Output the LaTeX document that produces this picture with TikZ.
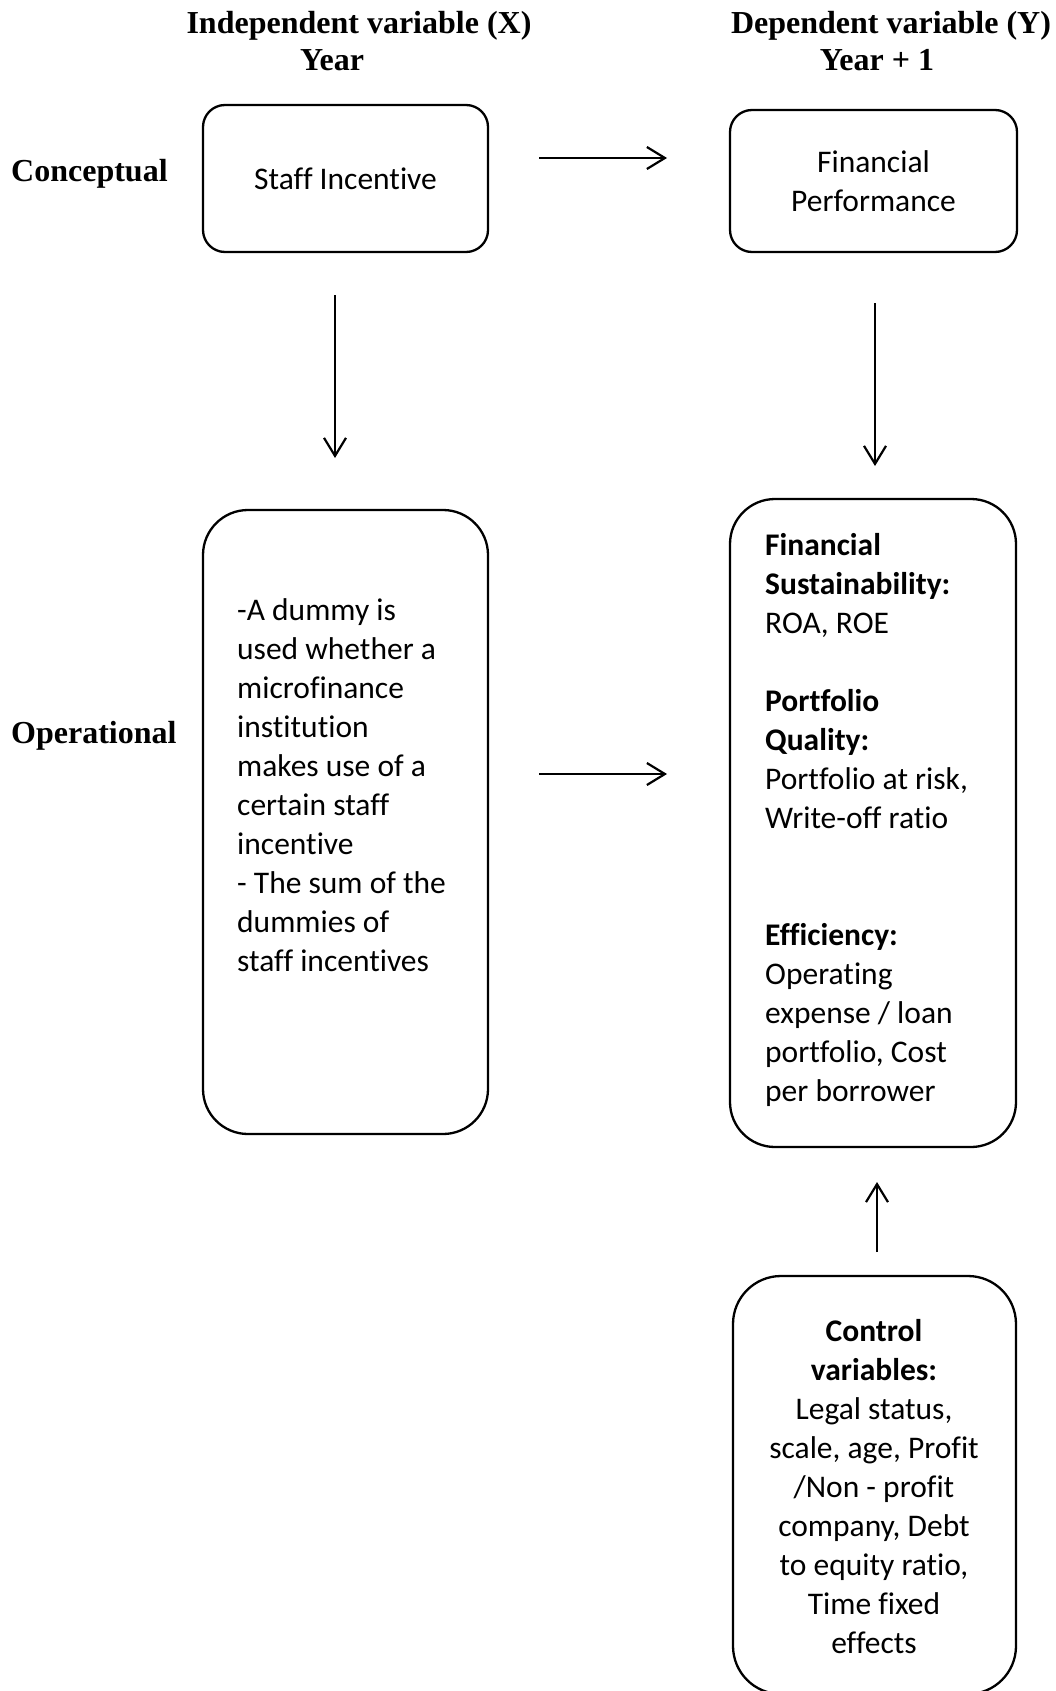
\documentclass[tikz,border=0pt]{standalone}
\usepackage{fontspec}
\setmainfont{Carlito}[Ligatures={NoCommon,NoDiscretionary},RawFeature={-liga;-clig;-dlig}]
\newfontfamily\headfont{Liberation Serif}
\usetikzlibrary{arrows.meta}
\begin{document}
\begin{tikzpicture}[x=1pt,y=-1pt,
  box/.style={draw, line width=2.3pt, rounded corners=#1, inner sep=0pt},
  box/.default=22pt,
  bodytext/.style={inner sep=0pt, font=\fontsize{31.5}{39}\selectfont},
  head/.style={inner sep=0pt, font=\headfont\bfseries\fontsize{32}{36}\selectfont},
  arr/.style={line width=2.2pt, -{Straight Barb[length=18pt,width=22pt,line width=2.2pt]}}]
\useasboundingbox (0,0) rectangle (1055,1691);

% headings
\node[head, anchor=base] (hx) at (359,34) {Independent variable (X)};
\node[head, anchor=base] (hxy) at (332,71) {Year};
\node[head, anchor=base] (hy) at (891,34) {Dependent variable (Y)};
\node[head, anchor=base] (hyy) at (877,71) {Year + 1};
\node[head, anchor=base west] (conc) at (11,181) {Conceptual};
\node[head, anchor=base west] (oper) at (11,743) {Operational};

% boxes
\node[box, bodytext, minimum width=285pt, minimum height=147pt] (si) at (345.5,178.5) {Staff Incentive};
\node[box, bodytext, align=center, minimum width=287pt, minimum height=142pt] (fp) at (873.5,181) {Financial\\Performance};
\node[box=45pt, minimum width=285pt, minimum height=624pt] (opx) at (345.5,822) {};
\node[box=45pt, minimum width=286pt, minimum height=648pt] (opy) at (873,823) {};
\node[box=48pt, minimum width=283pt, minimum height=418pt] (ctl) at (874.5,1485) {};

% box texts
\node[bodytext, anchor=north west, align=left] (opxt) at (237,598) {-A dummy is\\used whether a\\microfinance\\institution\\makes use of a\\certain staff\\incentive\\- The sum of the\\dummies of\\staff incentives};
\node[bodytext, anchor=north west, align=left] (opyt) at (765,533) {\textbf{Financial}\\\textbf{Sustainability:}\\ROA, ROE\\[39pt]\textbf{Portfolio}\\\textbf{Quality:}\\Portfolio at risk,\\Write-off ratio\\[78pt]\textbf{Efficiency:}\\Operating\\expense / loan\\portfolio, Cost\\per borrower};
\node[bodytext, anchor=north, align=center] (ctlt) at (874,1319) {\textbf{Control}\\\textbf{variables:}\\Legal status,\\scale, age, Profit\\/Non - profit\\company, Debt\\to equity ratio,\\Time fixed\\effects};

% arrow end points
\coordinate (a1s) at (539,158); \coordinate (a1e) at (667,158);
\coordinate (a2s) at (335,295); \coordinate (a2e) at (335,458);
\coordinate (a3s) at (875,303); \coordinate (a3e) at (875,466);
\coordinate (a4s) at (539,774); \coordinate (a4e) at (667,774);
\coordinate (a5s) at (877,1252); \coordinate (a5e) at (877,1182);

\draw[arr] (a1s) -- (a1e);
\draw[arr] (a2s) -- (a2e);
\draw[arr] (a3s) -- (a3e);
\draw[arr] (a4s) -- (a4e);
\draw[arr] (a5s) -- (a5e);
\end{tikzpicture}
\end{document}
